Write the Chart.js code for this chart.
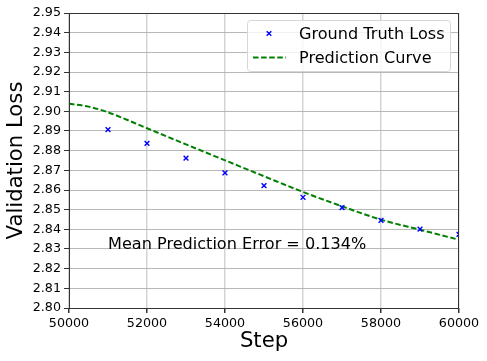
<!DOCTYPE html>
<html>
<head>
<meta charset="utf-8">
<script src="https://cdn.jsdelivr.net/npm/chart.js@4/dist/chart.umd.min.js"></script>
<style>
  html, body { margin: 0; padding: 0; background: #ffffff; }
  #c { display: block; }
</style>
</head>
<body>
<canvas id="c" width="487" height="361"></canvas>
<script>
// ---- data ----
const gtSteps = [51000, 52000, 53000, 54000, 55000, 56000, 57000, 58000, 59000, 60000];
const gtLoss  = [2.8907, 2.8837, 2.8762, 2.8687, 2.8622, 2.8563, 2.8510, 2.8446, 2.8401, 2.8374];
const curveSteps = [50000, 50500, 51000, 52000, 53000, 54000, 55000, 56000, 57000, 58000, 59000, 60000];
const curveLoss  = [2.9038, 2.9024, 2.8995, 2.8914, 2.8832, 2.8751, 2.8670, 2.8590, 2.8517, 2.8449, 2.8398, 2.8347];
const xTickMin = 50000, xTickMax = 60000, xTickStep = 2000;
const yTickMin = 2.80, yTickMax = 2.95, yTickStep = 0.01;
const seriesLabels = ['Ground Truth Loss', 'Prediction Curve'];
const axisTitles = { x: 'Step', y: 'Validation Loss' };
const annotationText = 'Mean Prediction Error = 0.134%';
const annotationAt = { x: 51000, y: 2.83 };

const FONT = '"DejaVu Sans", "Liberation Sans", sans-serif';

const frameAndLegend = {
  id: 'frameAndLegend',
  afterDatasetsDraw(chart) {
    const ctx = chart.ctx;
    const a = chart.chartArea;
    const xs = chart.scales.x, ys = chart.scales.y;
    ctx.save();
    // annotation text
    ctx.font = '16.1px ' + FONT;
    ctx.fillStyle = '#000000';
    ctx.textAlign = 'left';
    ctx.textBaseline = 'alphabetic';
    ctx.fillText(annotationText, xs.getPixelForValue(annotationAt.x), ys.getPixelForValue(annotationAt.y));
    // frame
    ctx.strokeStyle = '#333333';
    ctx.lineWidth = 1;
    ctx.strokeRect(Math.round(a.left) + 0.5, Math.round(a.top) + 0.5, Math.round(a.right - a.left) - 1, Math.round(a.bottom - a.top));
    // legend
    const bx = 247.5, by = 20.5, bw = 203, bh = 51, r = 3;
    ctx.beginPath();
    ctx.moveTo(bx + r, by);
    ctx.arcTo(bx + bw, by, bx + bw, by + bh, r);
    ctx.arcTo(bx + bw, by + bh, bx, by + bh, r);
    ctx.arcTo(bx, by + bh, bx, by, r);
    ctx.arcTo(bx, by, bx + bw, by, r);
    ctx.closePath();
    ctx.fillStyle = 'rgba(255,255,255,0.8)';
    ctx.fill();
    ctx.strokeStyle = '#d6d6d6';
    ctx.lineWidth = 1;
    ctx.stroke();
    const ds = chart.data.datasets;
    ctx.font = '16.1px ' + FONT;
    ctx.fillStyle = '#000000';
    ctx.textBaseline = 'middle';
    const rows = [33.5, 57.5];
    // marker row
    ctx.strokeStyle = ds[0].borderColor;
    ctx.lineWidth = 1.4;
    const mx = 269, d = 2.3;
    ctx.beginPath();
    ctx.moveTo(mx - d, rows[0] - d); ctx.lineTo(mx + d, rows[0] + d);
    ctx.moveTo(mx - d, rows[0] + d); ctx.lineTo(mx + d, rows[0] - d);
    ctx.stroke();
    ctx.fillText(ds[0].label, 299, rows[0] + 1);
    // line row
    ctx.strokeStyle = ds[1].borderColor;
    ctx.lineWidth = ds[1].borderWidth;
    ctx.setLineDash(ds[1].borderDash);
    ctx.beginPath();
    ctx.moveTo(253, rows[1]); ctx.lineTo(286, rows[1]);
    ctx.stroke();
    ctx.setLineDash([]);
    ctx.fillText(ds[1].label, 299, rows[1] + 1);
    ctx.restore();
  }
};

new Chart(document.getElementById('c'), {
  type: 'scatter',
  data: {
    datasets: [
      {
        label: seriesLabels[0],
        data: gtSteps.map((s, i) => ({ x: s, y: gtLoss[i] })),
        pointStyle: 'crossRot',
        radius: 3.4,
        borderWidth: 1.4,
        borderColor: '#0000ff',
        backgroundColor: '#0000ff',
        showLine: false,
        order: 1
      },
      {
        label: seriesLabels[1],
        data: curveSteps.map((s, i) => ({ x: s, y: curveLoss[i] })),
        showLine: true,
        pointRadius: 0,
        borderColor: '#008000',
        borderWidth: 2,
        borderDash: [5.5, 2.6],
        cubicInterpolationMode: 'monotone',
        fill: false,
        order: 2
      }
    ]
  },
  options: {
    responsive: false,
    animation: false,
    devicePixelRatio: 1,
    layout: { padding: { left: 0, right: 28, top: 13, bottom: 0 } },
    plugins: { legend: { display: false }, tooltip: { enabled: false } },
    scales: {
      x: {
        type: 'linear',
        min: xTickMin, max: xTickMax,
        afterFit(scale) { scale.height = 53; },
        ticks: {
          stepSize: xTickStep,
          color: '#000000',
          font: { family: FONT, size: 12.7 },
          padding: 3,
          maxRotation: 0,
          callback: v => String(v)
        },
        grid: { color: '#d4d4d4', lineWidth: 1.5, tickColor: '#333333', tickLength: 5, drawTicks: true },
        border: { display: true, color: '#333333', width: 1 },
        title: { display: true, text: axisTitles.x, color: '#000000', font: { family: FONT, size: 21.2, lineHeight: 1 }, padding: { top: 0, bottom: 8.5 } }
      },
      y: {
        type: 'linear',
        min: yTickMin, max: yTickMax,
        afterFit(scale) { scale.width = 69; },
        ticks: {
          stepSize: yTickStep,
          color: '#000000',
          font: { family: FONT, size: 12.7 },
          padding: 3,
          callback: v => Number(v).toFixed(2)
        },
        grid: { color: '#b8b8b8', lineWidth: 1, tickColor: '#333333', tickLength: 5, drawTicks: true },
        border: { display: true, color: '#333333', width: 1 },
        title: { display: true, text: axisTitles.y, color: '#000000', font: { family: FONT, size: 21.2, lineHeight: 1 }, padding: { top: 5.5, bottom: 0 } }
      }
    }
  },
  plugins: [frameAndLegend]
});
</script>
</body>
</html>
